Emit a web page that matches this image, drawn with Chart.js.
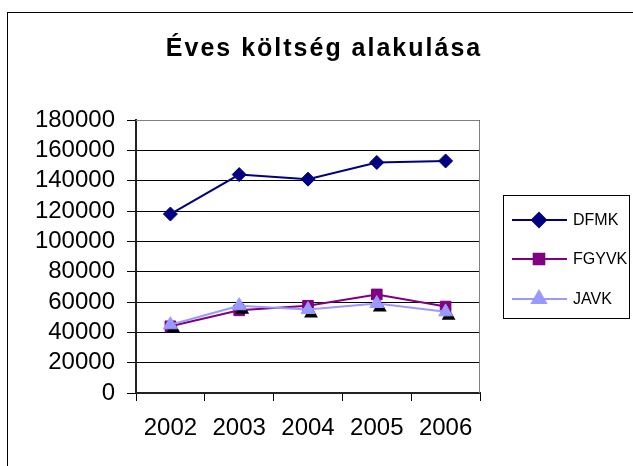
<!DOCTYPE html>
<html>
<head>
<meta charset="utf-8">
<script src="https://cdn.jsdelivr.net/npm/chart.js@4.4.1/dist/chart.umd.min.js"></script>
<style>
    html, body { margin: 0; padding: 0; background: #fff; }
</style>
</head>
<body>
<canvas id="cost-chart" width="633" height="466"></canvas>
<script>
"use strict";

// Data
const years = ['2002', '2003', '2004', '2005', '2006'];
const dfmkValues = [118000, 144000, 141000, 152000, 153000];
const fgyvkValues = [44000, 54500, 57500, 65000, 57000];
const javkValues = [45000, 57500, 55000, 59000, 53500];
const yTickValues = [0, 20000, 40000, 60000, 80000, 100000, 120000, 140000, 160000, 180000];
const seriesNames = ['DFMK', 'FGYVK', 'JAVK'];

const FONT = '"Liberation Sans", Arial, sans-serif';

/**
 * Frame, plot border, triangle shadows and the boxed legend
 */
const excelLook = {
    id: 'excelLook',
    beforeDraw(chart) {
        const ctx = chart.ctx;
        ctx.save();
        ctx.strokeStyle = '#000';
        ctx.lineWidth = 1;
        ctx.strokeRect(7.5, 12.5, 700, 700);
        ctx.restore();
        // title is stretched wide in the original
        ctx.letterSpacing = '2px';
    },
    beforeDatasetsDraw(chart) {
        const ctx = chart.ctx;
        ctx.letterSpacing = '0px';
        const a = chart.chartArea;
        ctx.save();
        ctx.strokeStyle = '#808080';
        ctx.lineWidth = 1;
        ctx.beginPath();
        ctx.moveTo(a.left, a.top + 0.5);
        ctx.lineTo(a.right - 0.5, a.top + 0.5);
        ctx.lineTo(a.right - 0.5, a.bottom);
        ctx.stroke();
        ctx.restore();
    },
    beforeDatasetDraw(chart, args) {
        if (args.index !== 2) return;
        const ctx = chart.ctx;
        const ds = chart.data.datasets[2];
        ctx.save();
        ctx.fillStyle = '#000';
        args.meta.data.forEach(pt => {
            Chart.helpers.drawPoint(ctx, {
                pointStyle: 'triangle',
                radius: ds.pointRadius,
                rotation: 0,
                borderWidth: 0
            }, pt.x + 3, pt.y + 4);
        });
        ctx.restore();
    },
    afterDraw(chart) {
        const ctx = chart.ctx;
        const box = { x: 503.5, y: 195.5, w: 126, h: 123 };
        const rows = [220, 259, 299];
        ctx.save();
        ctx.letterSpacing = '0px';
        ctx.strokeStyle = '#000';
        ctx.lineWidth = 1;
        ctx.strokeRect(box.x, box.y, box.w, box.h);

        chart.data.datasets.forEach((ds, i) => {
            const y = rows[i];
            ctx.strokeStyle = ds.borderColor;
            ctx.lineWidth = ds.borderWidth;
            ctx.beginPath();
            ctx.moveTo(512, y);
            ctx.lineTo(567, y);
            ctx.stroke();

            ctx.fillStyle = ds.pointBackgroundColor;
            ctx.strokeStyle = ds.pointBorderColor;
            Chart.helpers.drawPoint(ctx, {
                pointStyle: ds.pointStyle,
                radius: ds.pointRadius,
                rotation: 0,
                borderWidth: 1
            }, 539, y);

            ctx.fillStyle = '#000';
            ctx.font = '16px ' + FONT;
            ctx.textAlign = 'left';
            ctx.textBaseline = 'middle';
            ctx.fillText(ds.label, 573, y + 1);
        });
        ctx.restore();
    }
};

const ctx = document.getElementById('cost-chart').getContext('2d');

new Chart(ctx, {
    type: 'line',
    data: {
        labels: years,
        datasets: [
            {
                label: seriesNames[0],
                data: dfmkValues,
                borderColor: '#000080',
                backgroundColor: '#000080',
                borderWidth: 2,
                pointStyle: 'rectRot',
                pointRadius: 7,
                pointBackgroundColor: '#000080',
                pointBorderColor: '#000080',
                pointBorderWidth: 1,
                tension: 0,
                order: 2,
                yAxisID: 'y'
            },
            {
                label: seriesNames[1],
                data: fgyvkValues,
                borderColor: '#800080',
                backgroundColor: '#800080',
                borderWidth: 2,
                pointStyle: 'rect',
                pointRadius: 7.5,
                pointBackgroundColor: '#800080',
                pointBorderColor: '#800080',
                pointBorderWidth: 1,
                tension: 0,
                order: 1,
                yAxisID: 'y'
            },
            {
                label: seriesNames[2],
                data: javkValues,
                borderColor: '#9999ff',
                backgroundColor: '#9999ff',
                borderWidth: 2,
                pointStyle: 'triangle',
                pointRadius: 8,
                pointBackgroundColor: '#9999ff',
                pointBorderColor: '#9999ff',
                pointBorderWidth: 1,
                tension: 0,
                order: 0,
                yAxisID: 'y'
            }
        ]
    },
    options: {
        responsive: false,
        animation: false,
        devicePixelRatio: 1,
        layout: {
            padding: { left: 15, right: 0, top: 0, bottom: 0 }
        },
        plugins: {
            legend: { display: false },
            tooltip: { enabled: false },
            title: {
                display: true,
                text: 'Éves költség alakulása',
                color: '#000',
                font: { family: FONT, size: 25, weight: 'bold', lineHeight: 1.2 },
                padding: { top: 34, bottom: 56 }
            }
        },
        scales: {
            y: {
                type: 'linear',
                position: 'left',
                min: 0,
                max: 180000,
                afterBuildTicks: (scale) => {
                    scale.ticks = yTickValues.map(v => ({ value: v }));
                },
                afterFit: (scale) => { scale.width = 121; },
                grid: {
                    color: '#000',
                    lineWidth: 1,
                    tickLength: 9
                },
                border: { color: '#222', width: 2 },
                ticks: {
                    z: 1,
                    autoSkip: false,
                    padding: 12,
                    color: '#000',
                    font: { family: FONT, size: 24 },
                    callback: (value) => String(value)
                }
            },
            x: {
                offset: true,
                afterFit: (scale) => { scale.height = 73; },
                grid: {
                    offset: true,
                    drawOnChartArea: false,
                    color: '#000',
                    tickLength: 8
                },
                border: { color: '#222', width: 2 },
                ticks: {
                    z: 1,
                    autoSkip: false,
                    padding: 13,
                    color: '#000',
                    maxRotation: 0,
                    font: { family: FONT, size: 24 }
                }
            },
            // empty right-hand scale keeps room for the boxed legend
            legendSpace: {
                type: 'linear',
                position: 'right',
                afterFit: (scale) => { scale.width = 153; },
                grid: { display: false, drawTicks: false },
                border: { display: false },
                ticks: { display: false }
            }
        }
    },
    plugins: [excelLook]
});
</script>
</body>
</html>
